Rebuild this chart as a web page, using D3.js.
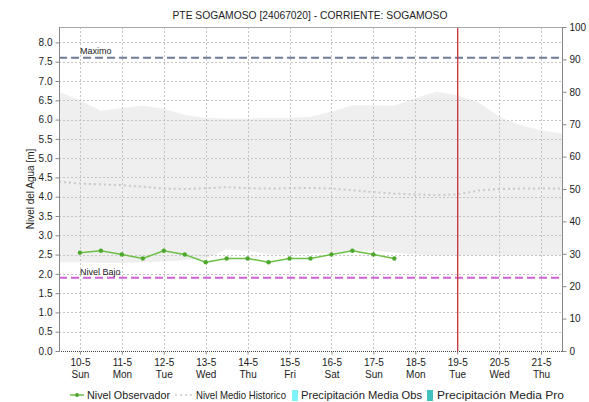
<!DOCTYPE html>
<html>
<head>
<meta charset="utf-8">
<script src="https://cdn.jsdelivr.net/npm/d3@7"></script>
<style>
  html, body { margin: 0; padding: 0; background: #fff; }
  svg { display: block; font-family: "Liberation Sans", Arial, sans-serif; }
</style>
</head>
<body>
<svg id="chart" width="589" height="402"></svg>
<script>
// Day labels (index 0 = 10-5)
const dayLabels = ["10-5", "11-5", "12-5", "13-5", "14-5", "15-5", "16-5", "17-5", "18-5", "19-5", "20-5", "21-5"];
const weekDays  = ["Sun", "Mon", "Tue", "Wed", "Thu", "Fri", "Sat", "Sun", "Mon", "Tue", "Wed", "Thu"];

// Observed level, every 12 h from 10-5
const observedT = [0, 0.5, 1, 1.5, 2, 2.5, 3, 3.5, 4, 4.5, 5, 5.5, 6, 6.5, 7, 7.5];
const observed  = [2.55, 2.6, 2.5, 2.4, 2.6, 2.5, 2.3, 2.4, 2.4, 2.3, 2.4, 2.4, 2.5, 2.6, 2.5, 2.4];

// Historical envelope and mean, every 12 h across the full window
const histT    = [-0.5, 0, 0.5, 1, 1.5, 2, 2.5, 3, 3.5, 4, 4.5, 5, 5.5, 6, 6.5, 7, 7.5, 8, 8.5, 9, 9.5, 10, 10.5, 11, 11.5];
const histMax  = [6.72, 6.5, 6.23, 6.3, 6.36, 6.28, 6.12, 6.04, 6.03, 6.03, 6.04, 6.05, 6.07, 6.2, 6.37, 6.37, 6.36, 6.55, 6.72, 6.63, 6.45, 6.08, 5.86, 5.72, 5.64];
const histMin  = [2.3, 2.3, 2.28, 2.28, 2.3, 2.32, 2.35, 2.4, 2.63, 2.6, 2.5, 2.5, 2.52, 2.55, 2.6, 2.6, 2.55, 2.5, 2.48, 2.48, 2.48, 2.48, 2.48, 2.48, 2.48];
const histMean = [4.39, 4.34, 4.32, 4.3, 4.26, 4.21, 4.2, 4.22, 4.25, 4.22, 4.21, 4.22, 4.23, 4.21, 4.17, 4.12, 4.08, 4.06, 4.04, 4.06, 4.16, 4.2, 4.21, 4.21, 4.21];

// Reference levels and current day marker
const nivelMaximo = 7.6;
const nivelBajo = 1.9;
const currentDay = 9; // 19-5

const levelTicks = d3.range(0, 8.01, 0.5);
const rainTicks = d3.range(0, 101, 10);

const svg = d3.select("#chart");
const L = 59, R = 562, T = 27, B = 351;

const x = d3.scaleLinear().domain([-0.5, 11.5]).range([L, R]);
const y = d3.scaleLinear().domain([0, 8.4]).range([B, T]);
const y2 = d3.scaleLinear().domain([0, 100]).range([B, T]);

// Historical envelope
const band = histT.map((t, i) => ({ t, lo: histMin[i], hi: histMax[i], m: histMean[i] }));
svg.append("path")
  .datum(band)
  .attr("fill", "#efefef")
  .attr("d", d3.area().x(d => x(d.t)).y0(d => y(d.lo)).y1(d => y(d.hi)));

// Grid
const grid = svg.append("g").attr("stroke", "#c4c4c4").attr("stroke-width", 1).attr("stroke-dasharray", "2,2");
grid.selectAll("line.h").data(levelTicks.filter(v => v > 0)).join("line")
  .attr("x1", L).attr("x2", R)
  .attr("y1", d => Math.round(y(d)) + 0.5).attr("y2", d => Math.round(y(d)) + 0.5);
grid.selectAll("line.v").data(d3.range(dayLabels.length)).join("line")
  .attr("y1", T).attr("y2", B)
  .attr("x1", d => Math.round(x(d)) + 0.5).attr("x2", d => Math.round(x(d)) + 0.5);

// Historical mean
svg.append("path")
  .datum(band)
  .attr("fill", "none")
  .attr("stroke", "#c9c9c9")
  .attr("stroke-width", 2)
  .attr("stroke-dasharray", "2,3")
  .attr("d", d3.line().x(d => x(d.t)).y(d => y(d.m)));

// Threshold lines
svg.append("line")
  .attr("x1", L).attr("x2", R).attr("y1", y(nivelMaximo)).attr("y2", y(nivelMaximo))
  .attr("stroke", "#6e7b99").attr("stroke-width", 2).attr("stroke-dasharray", "8,4");
svg.append("line")
  .attr("x1", L).attr("x2", R).attr("y1", y(nivelBajo)).attr("y2", y(nivelBajo))
  .attr("stroke", "#cf63d6").attr("stroke-width", 2).attr("stroke-dasharray", "8,4");
svg.append("text").attr("x", x(0)).attr("y", y(nivelMaximo) - 4)
  .attr("font-size", 9).attr("fill", "#222").text("Maximo");
svg.append("text").attr("x", x(0)).attr("y", y(nivelBajo) - 3)
  .attr("font-size", 9).attr("fill", "#222").text("Nivel Bajo");

// Current day marker
svg.append("line")
  .attr("x1", x(currentDay) + 0.5).attr("x2", x(currentDay) + 0.5).attr("y1", T).attr("y2", B)
  .attr("stroke", "#c8323a").attr("stroke-width", 1.3);

// Observed level
const obs = observedT.map((t, i) => ({ t, v: observed[i] }));
svg.append("path")
  .datum(obs)
  .attr("fill", "none")
  .attr("stroke", "#6cbf45")
  .attr("stroke-width", 1.5)
  .attr("d", d3.line().x(d => x(d.t)).y(d => y(d.v)));
svg.selectAll("circle.obs").data(obs).join("circle")
  .attr("cx", d => x(d.t)).attr("cy", d => y(d.v)).attr("r", 2.2)
  .attr("fill", "#4fa82e");

// Frame
svg.append("line").attr("x1", L).attr("x2", R).attr("y1", T + 0.5).attr("y2", T + 0.5).attr("stroke", "#a8a8a8");
svg.append("line").attr("x1", L).attr("x2", R).attr("y1", B + 0.5).attr("y2", B + 0.5)
  .attr("stroke", "#444").attr("stroke-dasharray", "1,1");

// Left axis
const leftAxis = svg.append("g").attr("transform", `translate(${L + 0.5},0)`)
  .call(d3.axisLeft(y).tickValues(levelTicks).tickFormat(d3.format(".1f")).tickSize(4).tickPadding(3));
leftAxis.select(".domain").attr("stroke", "#888").attr("d", `M0,${T}V${B + 1}`);
leftAxis.selectAll(".tick line").attr("stroke", "#888");
leftAxis.selectAll("text").attr("font-size", 10).attr("fill", "#222").attr("font-family", "Liberation Sans, Arial, sans-serif");

// Right axis
const rightAxis = svg.append("g").attr("transform", `translate(${R + 0.5},0)`)
  .call(d3.axisRight(y2).tickValues(rainTicks).tickSize(4).tickPadding(3));
rightAxis.select(".domain").attr("stroke", "#888").attr("d", `M0,${T}V${B + 1}`);
rightAxis.selectAll(".tick line").attr("stroke", "#888");
rightAxis.selectAll("text").attr("font-size", 10).attr("fill", "#222").attr("font-family", "Liberation Sans, Arial, sans-serif");

// Bottom axis with date and weekday
const bottomAxis = svg.append("g").attr("transform", `translate(0,${B + 0.5})`)
  .call(d3.axisBottom(x).tickValues(d3.range(dayLabels.length)).tickSize(3).tickFormat(() => ""));
bottomAxis.select(".domain").remove();
bottomAxis.selectAll(".tick line").attr("stroke", "#888");
bottomAxis.selectAll(".tick").each(function (d) {
  const t = d3.select(this).append("text")
    .attr("fill", "#222").attr("font-size", 10).attr("text-anchor", "middle")
    .attr("font-family", "Liberation Sans, Arial, sans-serif");
  t.append("tspan").attr("x", 0).attr("y", 14).text(dayLabels[d]);
  t.append("tspan").attr("x", 0).attr("y", 26).text(weekDays[d]);
});

// Title and axis label
svg.append("text").attr("x", 310).attr("y", 19).attr("text-anchor", "middle")
  .attr("font-size", 10.5).attr("fill", "#222")
  .attr("textLength", 275).attr("lengthAdjust", "spacingAndGlyphs")
  .text("PTE SOGAMOSO [24067020] - CORRIENTE: SOGAMOSO");
svg.append("text")
  .attr("transform", `translate(34,${(T + B) / 2}) rotate(-90)`)
  .attr("text-anchor", "middle").attr("font-size", 10).attr("fill", "#222")
  .text("Nivel del Agua [m]");

// Legend
const lg = svg.append("g").attr("font-size", 10.5).attr("fill", "#222");
const ly = 395;
const legendText = (x0, w, s) => lg.append("text").attr("x", x0).attr("y", ly + 4)
  .attr("textLength", w).attr("lengthAdjust", "spacingAndGlyphs").text(s);
lg.append("line").attr("x1", 70).attr("x2", 84).attr("y1", ly).attr("y2", ly).attr("stroke", "#6cbf45").attr("stroke-width", 1.5);
lg.append("circle").attr("cx", 77).attr("cy", ly).attr("r", 2).attr("fill", "#4fa82e");
legendText(87, 83, "Nivel Observador");
lg.append("line").attr("x1", 175).attr("x2", 192).attr("y1", ly).attr("y2", ly)
  .attr("stroke", "#c9c9c9").attr("stroke-width", 1.5).attr("stroke-dasharray", "2,3");
legendText(196, 90, "Nivel Medio Historico");
lg.append("rect").attr("x", 292).attr("y", ly - 5).attr("width", 6).attr("height", 11).attr("fill", "#7ff3fb");
legendText(301, 121, "Precipitación Media Obs");
lg.append("rect").attr("x", 427).attr("y", ly - 5).attr("width", 6).attr("height", 11).attr("fill", "#3fc1c0");
legendText(437, 127, "Precipitación Media Pro");
</script>
</body>
</html>
